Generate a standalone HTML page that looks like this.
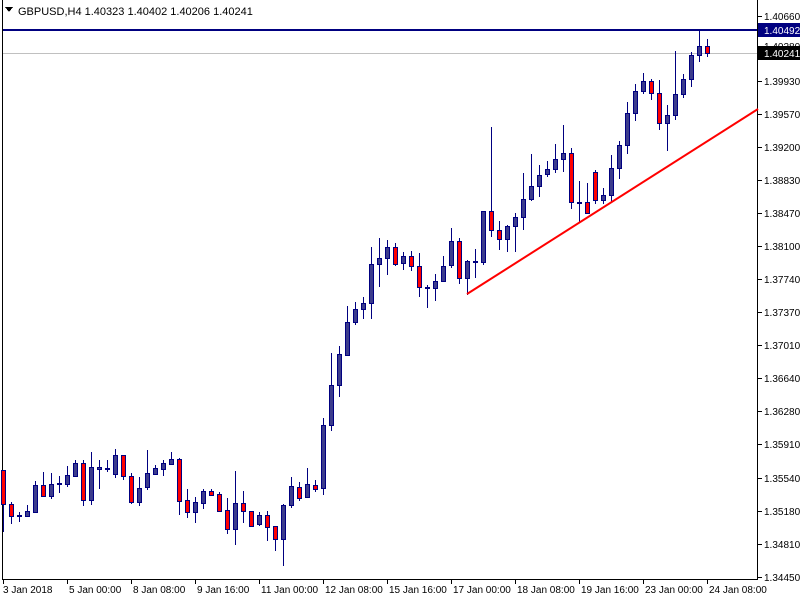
<!DOCTYPE html>
<html><head><meta charset="utf-8"><style>
html,body{margin:0;padding:0;background:#fff;}
svg{display:block;font-family:"Liberation Sans",sans-serif;}
</style></head><body>
<svg id="c" width="800" height="600" xmlns="http://www.w3.org/2000/svg" shape-rendering="crispEdges">
<rect width="800" height="600" fill="#fff"/>
<line x1="2.5" y1="0" x2="2.5" y2="579" stroke="#000"/>
<line x1="757.5" y1="0" x2="757.5" y2="579" stroke="#000"/>
<line x1="2" y1="579.5" x2="758" y2="579.5" stroke="#000"/>
<line x1="3" y1="53.5" x2="757" y2="53.5" stroke="#c0c0c0"/>
<line x1="3" y1="30" x2="757" y2="30" stroke="#000080" stroke-width="2"/>
<g id="cd"></g>
<line x1="467" y1="294" x2="758" y2="109" stroke="#ff0000" stroke-width="2" shape-rendering="auto"/>
<polygon points="5,7 13,7 9,12" fill="#000"/>
<text x="18" y="15" font-size="11" fill="#000">GBPUSD,H4  1.40323 1.40402 1.40206 1.40241</text>
<g id="ax" font-size="11" fill="#000"></g>
</svg>
<script>
var d=[[1,470,504,470,532],[1,504,516,502,524],[0,515,516,512,522],[0,511,516,505,517],[0,485,512,481,513],[1,485,496,472,497],[0,484,496,473,499],[0,483,484,476,493],[0,475,484,466,487],[0,463,476,460,477],[1,463,500,460,506],[0,467,500,452,505],[0,467,469,460,489],[0,468,469,460,472],[0,455,474,449,478],[1,455,476,455,480],[1,476,502,473,504],[0,488,502,477,506],[0,473,487,450,490],[0,468,474,465,475],[0,463,469,460,476],[0,459,464,452,464],[1,459,501,458,515],[1,500,512,489,518],[0,502,512,497,523],[0,491,503,489,509],[1,491,495,489,495],[1,494,511,492,512],[1,510,529,498,534],[0,503,529,471,545],[1,503,511,491,523],[1,511,526,511,526],[0,515,524,512,526],[1,515,527,511,541],[1,526,539,526,551],[0,505,539,504,566],[0,486,505,477,508],[1,487,498,482,501],[0,484,497,468,497],[1,485,489,480,492],[0,425,488,418,495],[0,385,425,353,431],[0,354,385,346,397],[0,322,355,306,356],[0,309,322,302,325],[0,303,309,297,319],[0,264,303,247,319],[0,258,264,238,287],[0,247,258,240,275],[1,247,264,243,266],[0,256,263,252,270],[1,256,266,251,271],[1,266,287,253,297],[0,287,288,285,308],[0,281,288,274,301],[0,266,281,256,281],[0,241,265,228,268],[1,241,278,238,284],[0,261,278,260,295],[0,261,262,249,278],[0,211,262,211,265],[1,211,230,127,237],[1,230,239,221,250],[0,226,239,225,252],[0,217,226,213,252],[0,199,217,173,230],[0,186,199,154,201],[0,175,186,165,197],[0,169,174,161,177],[0,159,169,144,173],[0,153,159,125,172],[1,153,202,148,209],[0,202,203,181,223],[1,202,213,183,214],[1,172,200,170,204],[0,195,200,188,204],[0,168,195,155,203],[0,145,168,141,179],[0,113,145,102,154],[0,91,113,84,121],[0,81,91,73,94],[1,81,93,79,100],[1,93,123,80,130],[0,115,123,105,151],[0,94,115,51,120],[0,79,94,74,98],[0,55,79,52,87],[0,46,55,30,62],[1,46,53,39,57]];
var ns="http://www.w3.org/2000/svg",g=document.getElementById('cd'),s='';
d.forEach(function(c,k){var x=3+8*k;
s+='<line x1="'+(x+.5)+'" y1="'+c[3]+'" x2="'+(x+.5)+'" y2="'+c[4]+'" stroke="#000080"/>';
var h=Math.max(c[2]-c[1],1);
s+='<rect x="'+(x-1.5)+'" y="'+(c[1]+.5)+'" width="4" height="'+h+'" fill="'+(c[0]?'#ff0000':'#3c3c8c')+'" stroke="#000080"/>';});
g.innerHTML=s;
var ax='',p=[["1.40660",16],["1.39930",81],["1.39570",114],["1.39200",147],["1.38830",180],["1.38470",213],["1.38100",246],["1.37740",279],["1.37370",312],["1.37010",345],["1.36640",378],["1.36280",411],["1.35910",444],["1.35540",478],["1.35180",511],["1.34810",544],["1.34450",577]];
p.forEach(function(q){ax+='<line x1="758" y1="'+(q[1]+.5)+'" x2="762" y2="'+(q[1]+.5)+'" stroke="#000"/><text x="764" y="'+(q[1]+4)+'" font-size="10">'+q[0]+'</text>';});
ax+='<rect x="758" y="23" width="42" height="14" fill="#000080"/><text x="764" y="34" font-size="10" fill="#fff">1.40492</text>';
ax+='<text x="764" y="50" font-size="10" fill="#000">1.40280</text>';
ax+='<rect x="758" y="46" width="42" height="14" fill="#000"/><text x="764" y="57" font-size="10" fill="#fff">1.40241</text>';
var t=["3 Jan 2018","5 Jan 00:00","8 Jan 08:00","9 Jan 16:00","11 Jan 00:00","12 Jan 08:00","15 Jan 16:00","17 Jan 00:00","18 Jan 08:00","19 Jan 16:00","23 Jan 00:00","24 Jan 08:00"];
t.forEach(function(l,i){var x=3+64*i;ax+='<line x1="'+(x+.5)+'" y1="580" x2="'+(x+.5)+'" y2="584" stroke="#000"/><text x="'+(x+(i?2:0))+'" y="593" font-size="10">'+l+'</text>';});
document.getElementById('ax').innerHTML=ax;
</script>
</body></html>
